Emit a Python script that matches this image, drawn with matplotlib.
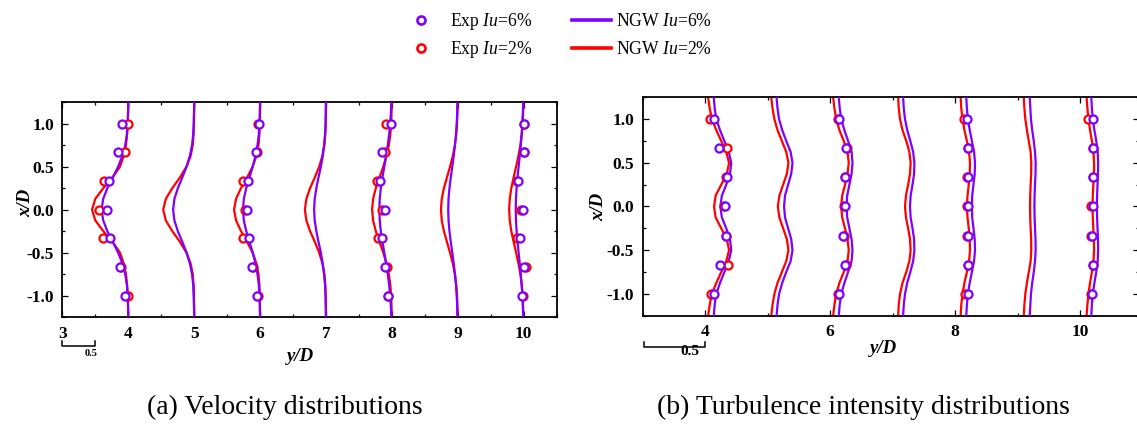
import matplotlib
matplotlib.use('Agg')
import matplotlib.pyplot as plt
from matplotlib.lines import Line2D
from matplotlib.ticker import MultipleLocator, FixedLocator
import matplotlib.transforms as mtransforms

plt.rcParams['font.family'] = ['Liberation Serif', 'DejaVu Serif']
plt.rcParams['mathtext.fontset'] = 'custom'
plt.rcParams['mathtext.rm'] = 'Liberation Serif'
plt.rcParams['mathtext.it'] = 'Liberation Serif:italic'
plt.rcParams['mathtext.bf'] = 'Liberation Serif:bold'
plt.rcParams['axes.unicode_minus'] = False

RED = '#ff0000'
PURPLE = '#8000ff'

# ---------------- data ----------------
# vertical coordinate x/D for the NGW model curves
XD_CURVE = [-1.25, -1.125, -1.0, -0.875, -0.75, -0.625, -0.5, -0.375, -0.25, -0.125, 0.0,
            0.125, 0.25, 0.375, 0.5, 0.625, 0.75, 0.875, 1.0, 1.125, 1.25]
# vertical coordinate x/D for experimental points
XD_EXP = [1.0, 0.667, 0.333, 0.0, -0.333, -0.667, -1.0]

STATIONS_CURVE = [4, 5, 6, 7, 8, 9, 10]
STATIONS_EXP = [4, 6, 8, 10]

# (a) velocity deficit (1 - u/U), plotted as station - deficit
VEL_NGW2_4 = [0.0, 0.003, 0.008, 0.018, 0.035, 0.07, 0.125, 0.238, 0.379, 0.501, 0.55, 0.501, 0.379, 0.238, 0.125, 0.07, 0.035, 0.018, 0.008, 0.003, 0.0]
VEL_NGW6_4 = [0.0, 0.004, 0.009, 0.021, 0.046, 0.09, 0.154, 0.235, 0.318, 0.381, 0.405, 0.381, 0.318, 0.235, 0.154, 0.09, 0.046, 0.021, 0.009, 0.004, 0.0]
VEL_NGW2_5 = [0.0, 0.001, 0.004, 0.009, 0.022, 0.054, 0.117, 0.215, 0.332, 0.431, 0.47, 0.431, 0.332, 0.215, 0.117, 0.054, 0.022, 0.009, 0.004, 0.001, 0.0]
VEL_NGW6_5 = [0.0, 0.003, 0.007, 0.015, 0.032, 0.065, 0.115, 0.18, 0.248, 0.30, 0.32, 0.30, 0.248, 0.18, 0.115, 0.065, 0.032, 0.015, 0.007, 0.003, 0.0]
VEL_NGW2_6 = [0.0, 0.001, 0.004, 0.01, 0.024, 0.056, 0.113, 0.196, 0.289, 0.365, 0.395, 0.365, 0.289, 0.196, 0.113, 0.056, 0.024, 0.01, 0.004, 0.001, 0.0]
VEL_NGW6_6 = [0.0, 0.004, 0.009, 0.019, 0.039, 0.069, 0.111, 0.161, 0.21, 0.247, 0.26, 0.247, 0.21, 0.161, 0.111, 0.069, 0.039, 0.019, 0.009, 0.004, 0.0]
VEL_NGW2_7 = [0.0, 0.001, 0.004, 0.01, 0.025, 0.054, 0.103, 0.169, 0.241, 0.298, 0.32, 0.298, 0.241, 0.169, 0.103, 0.054, 0.025, 0.01, 0.004, 0.001, 0.0]
VEL_NGW6_7 = [0.0, 0.003, 0.006, 0.014, 0.028, 0.049, 0.078, 0.113, 0.146, 0.171, 0.18, 0.171, 0.146, 0.113, 0.078, 0.049, 0.028, 0.014, 0.006, 0.003, 0.0]
VEL_NGW2_8 = [0.002, 0.005, 0.011, 0.023, 0.046, 0.082, 0.13, 0.188, 0.244, 0.285, 0.30, 0.285, 0.244, 0.188, 0.13, 0.082, 0.046, 0.023, 0.011, 0.005, 0.002]
VEL_NGW6_8 = [0.008, 0.015, 0.026, 0.041, 0.062, 0.087, 0.115, 0.143, 0.168, 0.184, 0.19, 0.184, 0.168, 0.143, 0.115, 0.087, 0.062, 0.041, 0.026, 0.015, 0.008]
VEL_NGW2_9 = [0.002, 0.005, 0.011, 0.023, 0.044, 0.075, 0.117, 0.164, 0.21, 0.243, 0.255, 0.243, 0.21, 0.164, 0.117, 0.075, 0.044, 0.023, 0.011, 0.005, 0.002]
VEL_NGW6_9 = [0.005, 0.009, 0.016, 0.026, 0.042, 0.061, 0.083, 0.106, 0.126, 0.14, 0.145, 0.14, 0.126, 0.106, 0.083, 0.061, 0.042, 0.026, 0.016, 0.009, 0.005]
VEL_NGW2_10 = [0.004, 0.008, 0.016, 0.029, 0.05, 0.079, 0.114, 0.152, 0.187, 0.211, 0.22, 0.211, 0.187, 0.152, 0.114, 0.079, 0.05, 0.029, 0.016, 0.008, 0.004]
VEL_NGW6_10 = [0.007, 0.012, 0.019, 0.03, 0.043, 0.059, 0.076, 0.093, 0.107, 0.117, 0.12, 0.117, 0.107, 0.093, 0.076, 0.059, 0.043, 0.03, 0.019, 0.012, 0.007]

VEL_EXP2_4 = [0.0, 0.055, 0.37, 0.44, 0.39, 0.115, 0.01]
VEL_EXP6_4 = [0.093, 0.152, 0.295, 0.325, 0.285, 0.13, 0.05]
VEL_EXP2_6 = [0.03, 0.05, 0.255, 0.23, 0.26, 0.11, 0.03]
VEL_EXP6_6 = [0.015, 0.065, 0.19, 0.205, 0.17, 0.12, 0.04]
VEL_EXP2_8 = [0.09, 0.105, 0.22, 0.15, 0.215, 0.07, 0.065]
VEL_EXP6_8 = [0.01, 0.15, 0.175, 0.105, 0.145, 0.11, 0.065]
VEL_EXP2_10 = [0.0, 0.0, 0.105, 0.04, 0.10, -0.035, 0.01]
VEL_EXP6_10 = [0.0, 0.0, 0.085, 0.013, 0.048, -0.01, 0.025]

# (b) turbulence intensity, horizontal offset from station (axis units, 1 unit = 0.5)
TI_NGW2_4 = [0.05, 0.075, 0.11, 0.18, 0.26, 0.34, 0.385, 0.35, 0.26, 0.17, 0.145, 0.17, 0.26, 0.35, 0.385, 0.34, 0.26, 0.18, 0.11, 0.075, 0.05]
TI_NGW6_4 = [0.14, 0.155, 0.18, 0.24, 0.31, 0.38, 0.42, 0.40, 0.34, 0.27, 0.245, 0.27, 0.34, 0.40, 0.42, 0.38, 0.31, 0.24, 0.18, 0.155, 0.14]
TI_NGW2_5 = [0.06, 0.08, 0.11, 0.16, 0.23, 0.30, 0.335, 0.31, 0.25, 0.19, 0.165, 0.19, 0.25, 0.31, 0.335, 0.30, 0.23, 0.16, 0.11, 0.08, 0.06]
TI_NGW6_5 = [0.145, 0.16, 0.185, 0.235, 0.30, 0.37, 0.40, 0.38, 0.33, 0.28, 0.265, 0.28, 0.33, 0.38, 0.40, 0.37, 0.30, 0.235, 0.185, 0.16, 0.145]
TI_NGW2_6 = [0.05, 0.07, 0.10, 0.15, 0.22, 0.28, 0.30, 0.28, 0.24, 0.195, 0.178, 0.195, 0.24, 0.28, 0.30, 0.28, 0.22, 0.15, 0.10, 0.07, 0.05]
TI_NGW6_6 = [0.14, 0.155, 0.18, 0.23, 0.29, 0.345, 0.36, 0.345, 0.31, 0.275, 0.265, 0.275, 0.31, 0.345, 0.36, 0.345, 0.29, 0.23, 0.18, 0.155, 0.14]
TI_NGW2_7 = [0.09, 0.10, 0.12, 0.16, 0.22, 0.27, 0.29, 0.28, 0.25, 0.215, 0.20, 0.215, 0.25, 0.28, 0.29, 0.27, 0.22, 0.16, 0.12, 0.10, 0.09]
TI_NGW6_7 = [0.17, 0.18, 0.20, 0.235, 0.285, 0.33, 0.35, 0.345, 0.32, 0.29, 0.28, 0.29, 0.32, 0.345, 0.35, 0.33, 0.285, 0.235, 0.20, 0.18, 0.17]
TI_NGW2_8 = [0.09, 0.10, 0.12, 0.15, 0.19, 0.225, 0.24, 0.235, 0.22, 0.20, 0.19, 0.20, 0.22, 0.235, 0.24, 0.225, 0.19, 0.15, 0.12, 0.10, 0.09]
TI_NGW6_8 = [0.18, 0.19, 0.205, 0.235, 0.27, 0.305, 0.32, 0.315, 0.295, 0.275, 0.27, 0.275, 0.295, 0.315, 0.32, 0.305, 0.27, 0.235, 0.205, 0.19, 0.18]
TI_NGW2_9 = [0.10, 0.11, 0.125, 0.15, 0.18, 0.21, 0.22, 0.218, 0.21, 0.203, 0.20, 0.203, 0.21, 0.218, 0.22, 0.21, 0.18, 0.15, 0.125, 0.11, 0.10]
TI_NGW6_9 = [0.195, 0.205, 0.215, 0.235, 0.26, 0.28, 0.29, 0.288, 0.28, 0.273, 0.27, 0.273, 0.28, 0.288, 0.29, 0.28, 0.26, 0.235, 0.215, 0.205, 0.195]
TI_NGW2_10 = [0.105, 0.118, 0.135, 0.16, 0.19, 0.215, 0.225, 0.222, 0.213, 0.204, 0.20, 0.204, 0.213, 0.222, 0.225, 0.215, 0.19, 0.16, 0.135, 0.118, 0.105]
TI_NGW6_10 = [0.18, 0.19, 0.205, 0.23, 0.26, 0.283, 0.29, 0.288, 0.28, 0.273, 0.27, 0.273, 0.28, 0.288, 0.29, 0.283, 0.26, 0.23, 0.205, 0.19, 0.18]

TI_EXP2_4 = [0.08, 0.345, 0.335, 0.30, 0.34, 0.36, 0.09]
TI_EXP6_4 = [0.15, 0.23, 0.345, 0.32, 0.33, 0.24, 0.14]
TI_EXP2_6 = [0.13, 0.265, 0.245, 0.228, 0.225, 0.255, 0.13]
TI_EXP6_6 = [0.145, 0.255, 0.24, 0.24, 0.21, 0.24, 0.14]
TI_EXP2_8 = [0.145, 0.215, 0.195, 0.19, 0.195, 0.21, 0.165]
TI_EXP6_8 = [0.19, 0.215, 0.20, 0.20, 0.20, 0.215, 0.20]
TI_EXP2_10 = [0.134, 0.20, 0.20, 0.18, 0.178, 0.20, 0.18]
TI_EXP6_10 = [0.20, 0.21, 0.21, 0.21, 0.193, 0.21, 0.193]

VEL_NGW2 = [VEL_NGW2_4, VEL_NGW2_5, VEL_NGW2_6, VEL_NGW2_7, VEL_NGW2_8, VEL_NGW2_9, VEL_NGW2_10]
VEL_NGW6 = [VEL_NGW6_4, VEL_NGW6_5, VEL_NGW6_6, VEL_NGW6_7, VEL_NGW6_8, VEL_NGW6_9, VEL_NGW6_10]
VEL_EXP2 = [VEL_EXP2_4, VEL_EXP2_6, VEL_EXP2_8, VEL_EXP2_10]
VEL_EXP6 = [VEL_EXP6_4, VEL_EXP6_6, VEL_EXP6_8, VEL_EXP6_10]
TI_NGW2 = [TI_NGW2_4, TI_NGW2_5, TI_NGW2_6, TI_NGW2_7, TI_NGW2_8, TI_NGW2_9, TI_NGW2_10]
TI_NGW6 = [TI_NGW6_4, TI_NGW6_5, TI_NGW6_6, TI_NGW6_7, TI_NGW6_8, TI_NGW6_9, TI_NGW6_10]
TI_EXP2 = [TI_EXP2_4, TI_EXP2_6, TI_EXP2_8, TI_EXP2_10]
TI_EXP6 = [TI_EXP6_4, TI_EXP6_6, TI_EXP6_8, TI_EXP6_10]

LEGEND_EXP = ['Exp $\\mathit{Iu}$=6%', 'Exp $\\mathit{Iu}$=2%']
LEGEND_NGW = ['NGW $\\mathit{Iu}$=6%', 'NGW $\\mathit{Iu}$=2%']
CAPTIONS = ['(a) Velocity distributions', '(b) Turbulence intensity distributions']

# ---------------- figure ----------------
W, H = 1137, 426
fig = plt.figure(figsize=(W / 100, H / 100), dpi=100)
axL = fig.add_axes([62.4 / W, 1 - 317.3 / H, 494.2 / W, 215.3 / H])
axR = fig.add_axes([642.5 / W, 1 - 315.7 / H, 496.9 / W, 218.4 / H])

LW = 1.6
MS = 5.8
MEW = 1.6

# (a)
for s, r in zip(STATIONS_CURVE, VEL_NGW2):
    axL.plot([s - v for v in r], XD_CURVE, color=RED, lw=LW, zorder=2)
for s, p in zip(STATIONS_CURVE, VEL_NGW6):
    axL.plot([s - v for v in p], XD_CURVE, color=PURPLE, lw=LW, zorder=3)
for s, r, p in zip(STATIONS_EXP, VEL_EXP2, VEL_EXP6):
    axL.plot([s - v for v in r], XD_EXP, ls='none', marker='o', ms=MS, mew=MEW,
             mec=RED, mfc='white', zorder=4)
    axL.plot([s - v for v in p], XD_EXP, ls='none', marker='o', ms=MS, mew=MEW,
             mec=PURPLE, mfc='white', zorder=5)

# (b)
for s, r in zip(STATIONS_CURVE, TI_NGW2):
    axR.plot([s + v for v in r], XD_CURVE, color=RED, lw=LW, zorder=2)
for s, p in zip(STATIONS_CURVE, TI_NGW6):
    axR.plot([s + v for v in p], XD_CURVE, color=PURPLE, lw=LW, zorder=3)
for s, r, p in zip(STATIONS_EXP, TI_EXP2, TI_EXP6):
    axR.plot([s + v for v in r], XD_EXP, ls='none', marker='o', ms=MS, mew=MEW,
             mec=RED, mfc='white', zorder=4)
    axR.plot([s + v for v in p], XD_EXP, ls='none', marker='o', ms=MS, mew=MEW,
             mec=PURPLE, mfc='white', zorder=5)

# axes styling
axL.set_xlim(3, 10.5)
axR.set_xlim(3, 10.95)
for ax in (axL, axR):
    ax.set_ylim(-1.25, 1.25)
    ax.yaxis.set_major_locator(MultipleLocator(0.5))
    ax.yaxis.set_minor_locator(MultipleLocator(0.25))
    ax.yaxis.set_major_formatter(matplotlib.ticker.FormatStrFormatter('%.1f'))
    ax.tick_params(which='both', direction='in', top=True, right=True, width=0.9,
                   labelsize=12.5, pad=6)
    ax.tick_params(which='major', length=4.2)
    ax.tick_params(which='minor', length=2.2)
    for sp in ax.spines.values():
        sp.set_linewidth(1.3)

axL.xaxis.set_major_locator(MultipleLocator(1))
axL.xaxis.set_minor_locator(MultipleLocator(0.5))
axR.xaxis.set_major_locator(FixedLocator([4, 6, 8, 10]))
axR.xaxis.set_minor_locator(FixedLocator([3, 5, 7, 9]))

for ax in (axL, axR):
    for lab in ax.get_xticklabels() + ax.get_yticklabels():
        lab.set_fontweight('bold')

lab_kw = dict(fontstyle='italic', fontweight='bold', fontsize=13.5)
axL.set_ylabel('x/D', **lab_kw)
axL.set_xlabel('y/D', **lab_kw)
axR.set_ylabel('x/D', **lab_kw)
axR.set_xlabel('y/D', **lab_kw)
axL.yaxis.set_label_coords(-0.058, 0.531)
axR.yaxis.set_label_coords(-0.0714, 0.5)
axL.xaxis.set_label_coords(0.481, -0.143)
axR.xaxis.set_label_coords(0.484, -0.112)

# scale bars
trL = mtransforms.blended_transform_factory(axL.transData, axL.transAxes)
axL.plot([3, 3, 3.5, 3.5], [-0.109, -0.133, -0.133, -0.109], color='k', lw=1.1,
         transform=trL, clip_on=False)
axL.text(3.43, -0.167, '0.5', transform=trL, ha='center', va='center',
         fontsize=7.5, fontweight='bold')
trR = mtransforms.blended_transform_factory(axR.transData, axR.transAxes)
axR.plot([3.02, 3.02, 4.0, 4.0], [-0.119, -0.145, -0.145, -0.119], color='k', lw=1.1,
         transform=trR, clip_on=False)
axR.text(3.76, -0.165, '0.5', transform=trR, ha='center', va='center',
         fontsize=11, fontweight='bold')

# legends
h_exp = [Line2D([], [], ls='none', marker='o', ms=MS, mew=MEW + 0.3, mec=PURPLE, mfc='white'),
         Line2D([], [], ls='none', marker='o', ms=MS, mew=MEW + 0.3, mec=RED, mfc='white')]
h_ngw = [Line2D([], [], color=PURPLE, lw=2.6), Line2D([], [], color=RED, lw=2.6)]
fs_leg = 12.7
fig.legend(h_exp, LEGEND_EXP, loc='upper left', bbox_to_anchor=(412.5 / W, 1 - 11 / H),
           frameon=False, fontsize=fs_leg, handlelength=1.0, handletextpad=1.15,
           labelspacing=0.42, borderpad=0, borderaxespad=0)
fig.legend(h_ngw, LEGEND_NGW, loc='upper left', bbox_to_anchor=(572 / W, 1 - 13 / H),
           frameon=False, fontsize=fs_leg, handlelength=2.2, handletextpad=0.28,
           labelspacing=0.65, borderpad=0, borderaxespad=0)

# captions
fig.text(285 / W, 1 - 407 / H, CAPTIONS[0], ha='center', va='center', fontsize=20)
fig.text(863 / W, 1 - 407 / H, CAPTIONS[1], ha='center', va='center', fontsize=20)

fig.savefig('out.png', dpi=100)
